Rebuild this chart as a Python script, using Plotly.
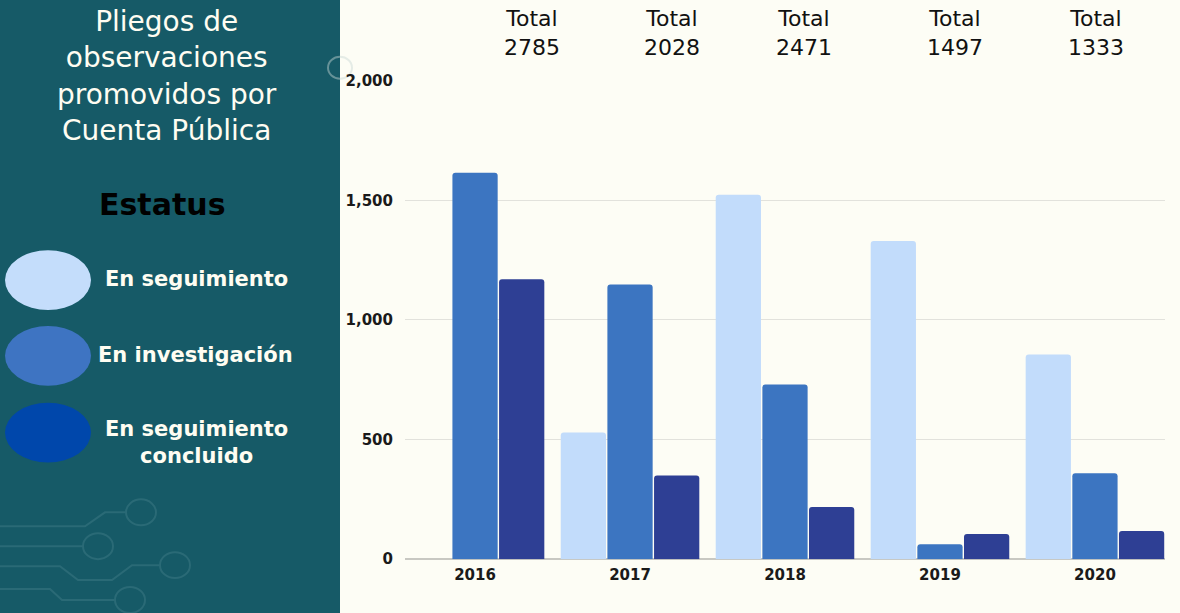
import plotly.graph_objects as go

W, H = 1180, 613

years = ["2016", "2017", "2018", "2019", "2020"]
en_seguimiento = [0, 530, 1523, 1330, 856]
en_investigacion = [1615, 1148, 730, 62, 359]
en_seguimiento_concluido = [1170, 350, 218, 105, 118]
totals = [2785, 2028, 2471, 1497, 1333]

series_names = ["En seguimiento", "En investigación", "En seguimiento concluido"]
bar_colors = ["#C2DCFB", "#3C75C1", "#2E3F94"]
legend_colors = ["#C4DDFB", "#3E74C2", "#0047AB"]
legend_labels = ["En seguimiento", "En investigación", "En seguimiento<br>concluido"]
title_text = "Pliegos de<br>observaciones<br>promovidos por<br>Cuenta Pública"
y_ticks = [0, 500, 1000, 1500, 2000]
y_tick_text = ["0", "500", "1,000", "1,500", "2,000"]

# the page is photographed with an ~8px top offset and ~0.974 vertical scale;
# py() maps a target screen row to paper coordinates accordingly
TOP_OFF, VIS_H = 8.0, 597.0


def px(x):
    return x / W


def py(y):
    return 1 - (y - TOP_OFF) / VIS_H


fig = go.Figure()
for name, vals, col in zip(series_names, [en_seguimiento, en_investigacion, en_seguimiento_concluido], bar_colors):
    fig.add_trace(go.Bar(
        x=years, y=vals, name=name,
        marker=dict(color=col, cornerradius=3, line=dict(width=0)),
        hoverinfo="x+y+name",
    ))

panel = "#165A67"
deco = "#2A6A76"
shapes = [
    dict(type="rect", xref="paper", yref="paper", x0=0, x1=px(340), y0=-0.05, y1=1.05,
         fillcolor=panel, line=dict(width=0), layer="below"),
]
# decorative circuit lines
lines = [
    [(0, 527), (85, 527), (105, 513), (126, 513)],
    [(0, 547), (83, 547)],
    [(0, 567), (60, 567), (78, 581), (112, 581), (132, 566), (160, 566)],
    [(0, 590), (50, 590), (62, 601), (115, 601)],
]
for pts in lines:
    path = "M " + " L ".join(f"{px(a):.5f},{py(b):.5f}" for a, b in pts)
    shapes.append(dict(type="path", xref="paper", yref="paper", path=path,
                       line=dict(color=deco, width=2), layer="below"))
for cx, cy in [(141, 513), (98, 547), (175, 566), (130, 601)]:
    shapes.append(dict(type="circle", xref="paper", yref="paper",
                       x0=px(cx - 15), x1=px(cx + 15), y0=py(cy + 13), y1=py(cy - 13),
                       line=dict(color=deco, width=2), fillcolor="rgba(0,0,0,0)", layer="below"))
shapes.append(dict(type="circle", xref="paper", yref="paper",
                   x0=px(328), x1=px(352), y0=py(78), y1=py(56),
                   line=dict(color="rgba(200,215,212,0.45)", width=2), fillcolor="rgba(0,0,0,0)", layer="below"))

# legend ellipses
legend_y = [280, 356, 433]
for cy, col in zip(legend_y, legend_colors):
    shapes.append(dict(type="circle", xref="paper", yref="paper",
                       x0=px(5), x1=px(91), y0=py(cy + 30), y1=py(cy - 30),
                       fillcolor=col, line=dict(width=0)))

annotations = []
annotations.append(dict(text=title_text, xref="paper", yref="paper", x=px(167), y=py(75),
                        xanchor="center", yanchor="middle", showarrow=False,
                        font=dict(family="DejaVu Sans", size=28, color="#FFFDF2")))
annotations.append(dict(text="<b>Estatus</b>", xref="paper", yref="paper", x=px(162), y=py(204),
                        xanchor="center", yanchor="middle", showarrow=False,
                        font=dict(family="DejaVu Sans", size=30, color="#000000")))
legend_text_pos = [(196, 279), (195, 355), (196, 443)]
for lab, (lx, ly) in zip(legend_labels, legend_text_pos):
    annotations.append(dict(text=lab, xref="paper", yref="paper", x=px(lx), y=py(ly),
                            xanchor="center", yanchor="middle", showarrow=False,
                            font=dict(family="DejaVu Sans", size=21, color="#FFFDF2", weight=600)))
total_x = [532, 672, 804, 955, 1096]
for tot, tx in zip(totals, total_x):
    annotations.append(dict(text=f"Total<br>{tot}", xref="paper", yref="paper", x=px(tx), y=py(32),
                            xanchor="center", yanchor="middle", showarrow=False,
                            font=dict(family="DejaVu Sans", size=22, color="#111111")))

fig.update_layout(
    width=W, height=H,
    autosize=False,
    margin=dict(l=0, r=0, t=0, b=0),
    paper_bgcolor="#FDFDF5",
    plot_bgcolor="#FDFDF5",
    barmode="group",
    bargap=0.097,
    bargroupgap=0.03,
    showlegend=False,
    shapes=shapes,
    annotations=annotations,
    xaxis=dict(domain=[px(405), px(1165)], range=[-0.452, 4.452], showgrid=False,
               tickfont=dict(family="DejaVu Sans", size=15, color="#1A1A1A", weight=700),
               ticks="", showline=False, fixedrange=True, ticklabelstandoff=5),
    yaxis=dict(domain=[py(560), py(80)], range=[0, 2000], tickvals=y_ticks, ticktext=y_tick_text,
               gridcolor="#E2E2DC", gridwidth=1, zeroline=True, zerolinecolor="#C8C8C2", zerolinewidth=1.5,
               tickfont=dict(family="DejaVu Sans", size=15, color="#1A1A1A", weight=700),
               ticks="", showline=False, fixedrange=True, ticklabelstandoff=11),
)

reset_js = (
    "var s=document.createElement('style');"
    "s.textContent='html,body{margin:0;padding:0;"
    "background:linear-gradient(to right,#165A67 0px,#165A67 340px,#FDFDF5 340px);}';"
    "document.head.appendChild(s);"
)

fig.write_html(
    "out.html",
    config={"displayModeBar": False},
    post_script=reset_js,
)
